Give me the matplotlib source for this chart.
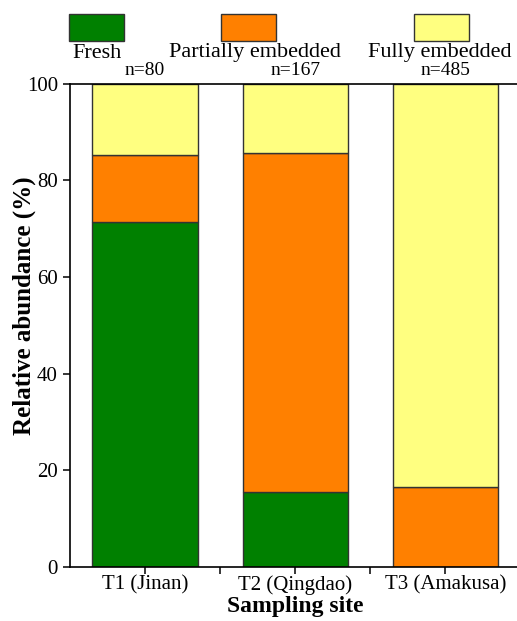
import matplotlib.pyplot as plt
from matplotlib.patches import Rectangle

plt.rcParams['font.family'] = ['Liberation Serif', 'DejaVu Serif']

sites = ['T1 (Jinan)', 'T2 (Qingdao)', 'T3 (Amakusa)']
n_labels = ['n=80', 'n=167', 'n=485']
fresh = [71.3, 15.5, 0.0]
partial = [14.0, 70.2, 16.5]
fully = [14.7, 14.3, 83.5]
categories = ['Fresh', 'Partially embedded', 'Fully embedded']
colors = ['#008000', '#FF8000', '#FFFF80']

fig = plt.figure(figsize=(5.17, 6.21), dpi=100)
ax = fig.add_axes([0.135, 0.087, 0.872, 0.778])

x = [1, 2, 3]
bottom = [0, 0, 0]
for vals, col in zip([fresh, partial, fully], colors):
    ax.bar(x, vals, width=0.7, bottom=bottom, color=col, edgecolor='#333333', linewidth=1)
    bottom = [b + v for b, v in zip(bottom, vals)]

ax.set_xlim(0.5, 3.5)
ax.set_ylim(0, 100)
ax.set_xticks([1, 1.5, 2, 2.5, 3])
ax.set_xticklabels([sites[0], '', sites[1], '', sites[2]])
ax.set_yticks([0, 20, 40, 60, 80, 100])
ax.tick_params(direction='out', length=5, width=1.1, labelsize=15)
ax.tick_params(axis='x', pad=1)
for s in ax.spines.values():
    s.set_linewidth(1.2)
ax.set_xlabel('Sampling site', fontsize=17, fontweight='bold', labelpad=1)
ax.set_ylabel('Relative abundance (%)', fontsize=18, fontweight='bold')
ax.yaxis.set_label_coords(-0.075, 0.54)

for xi, t in zip(x, n_labels):
    ax.text(xi, 101, t, ha='center', va='bottom', fontsize=14)

# legend above the plot
leg_x = [69, 221, 414]
leg_text_x = [97, 255, 440]
for lx, tx, col, lab in zip(leg_x, leg_text_x, colors, categories):
    fig.add_artist(Rectangle((lx / 517, 1 - 41 / 621), 55 / 517, 27 / 621,
                             transform=fig.transFigure, facecolor=col,
                             edgecolor='#333333', linewidth=1))
    fig.text(tx / 517, 1 - 53 / 621, lab, ha='center', va='center', fontsize=16)

plt.savefig('out.png', dpi=100)
